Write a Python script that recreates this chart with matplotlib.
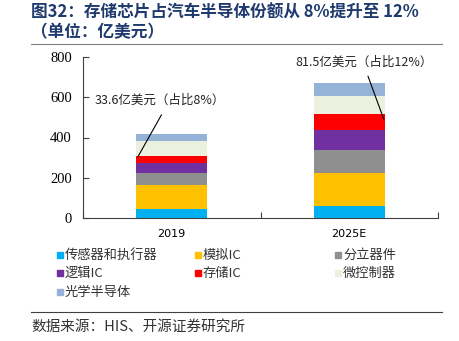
"""Stacked bars: automotive semiconductor market by segment, 2019 vs 2025E."""

import matplotlib
matplotlib.use("Agg")
import matplotlib.pyplot as plt
from matplotlib.patches import Rectangle

plt.rcParams['font.family'] = ['Noto Sans CJK SC', 'DejaVu Sans']

years = ['2019', '2025E']
segments = ['传感器和执行器', '模拟IC', '分立器件', '逻辑IC', '存储IC', '微控制器', '光学半导体']
values = {
    '传感器和执行器': [46, 58],
    '模拟IC': [119, 168],
    '分立器件': [58, 112],
    '逻辑IC': [50, 99],
    '存储IC': [33.6, 81.5],
    '微控制器': [74, 87],
    '光学半导体': [36, 66],
}
colors = ['#00B0F0', '#FFC000', '#8F8F8F', '#7030A0', '#FF0000', '#EBF1DE', '#95B3D7']
notes = ['33.6亿美元（占比8%）', '81.5亿美元（占比12%）']

W, H = 459, 341
fig = plt.figure(figsize=(W / 100, H / 100), dpi=100)
ax = fig.add_axes([83 / W, 1 - 218 / H, 355 / W, 161 / H])

bar_w = 0.4
x = list(range(len(years)))
bottom = [0.0, 0.0]
mem_bottom = None
for name, col in zip(segments, colors):
    vals = values[name]
    if name == '存储IC':
        mem_bottom = list(bottom)
    ax.bar(x, vals, bar_w, bottom=bottom, color=col, linewidth=0)
    bottom = [b + v for b, v in zip(bottom, vals)]

ax.set_xlim(-0.5, 1.5)
ax.set_ylim(0, 800)
ax.set_yticks(range(0, 801, 200))
ax.set_yticklabels([str(v) for v in range(0, 801, 200)],
                   family='Liberation Serif', fontsize=10.5)
ax.set_xticks([-0.5, 0.5, 1.5])
ax.set_xticklabels([])
ax.set_xticks(x, minor=True)
ax.set_xticklabels(years, minor=True, fontsize=8, family='DejaVu Sans')
ax.tick_params(axis='x', which='minor', length=0, pad=8)
ax.tick_params(axis='x', which='major', length=4, direction='in', color='#404040')
ax.tick_params(axis='y', length=4, direction='in', color='#404040', pad=8)
for s in ['top', 'right']:
    ax.spines[s].set_visible(False)
for s in ['left', 'bottom']:
    ax.spines[s].set_color('#404040')

# annotations for memory share
mem = values['存储IC']
ax.annotate('', xy=(-bar_w / 2, mem_bottom[0] + mem[0] / 2), xytext=(-0.05, 525),
            arrowprops=dict(arrowstyle='-', color='black', lw=0.8))
ax.text(-0.066, 584, notes[0], ha='center', va='center', fontsize=9, color='#222222')
ax.annotate('', xy=(1 + bar_w / 2, mem_bottom[1] + mem[1] / 2), xytext=(1.10, 718),
            arrowprops=dict(arrowstyle='-', color='black', lw=0.8))
ax.text(1.083, 772, notes[1], ha='center', va='center', fontsize=9, color='#222222',
        clip_on=False)

# legend laid out row by row
col_x = [57, 195, 335]
row_y = [255, 273, 292]
for i, (name, col) in enumerate(zip(segments, colors)):
    r, c = divmod(i, 3)
    lx, ly = col_x[c], row_y[r]
    fig.patches.append(Rectangle((lx / W, 1 - (ly + 3) / H), 6 / W, 6 / H,
                                 transform=fig.transFigure, color=col))
    fig.text((lx + 8) / W, 1 - ly / H, name, fontsize=9.5, va='center', color='#333333')

# title and source
navy = '#1F3A6E'
fig.text(31 / W, 1 - 13 / H, '图32：存储芯片占汽车半导体份额从 8%提升至 12%',
         fontsize=12, fontweight='bold', color=navy, va='center')
fig.text(31 / W, 1 - 32 / H, '（单位：亿美元）',
         fontsize=12, fontweight='bold', color=navy, va='center')
fig.add_artist(plt.Line2D([31 / W, 442 / W], [1 - 44 / H, 1 - 44 / H], color='#7F7F7F', lw=0.8))
fig.add_artist(plt.Line2D([31 / W, 442 / W], [1 - 312 / H, 1 - 312 / H], color='#404040', lw=0.8))
fig.text(31 / W, 1 - 327 / H, '数据来源：HIS、开源证券研究所', fontsize=10.5, va='center', color='#333333')

fig.savefig('out.png', dpi=100)
